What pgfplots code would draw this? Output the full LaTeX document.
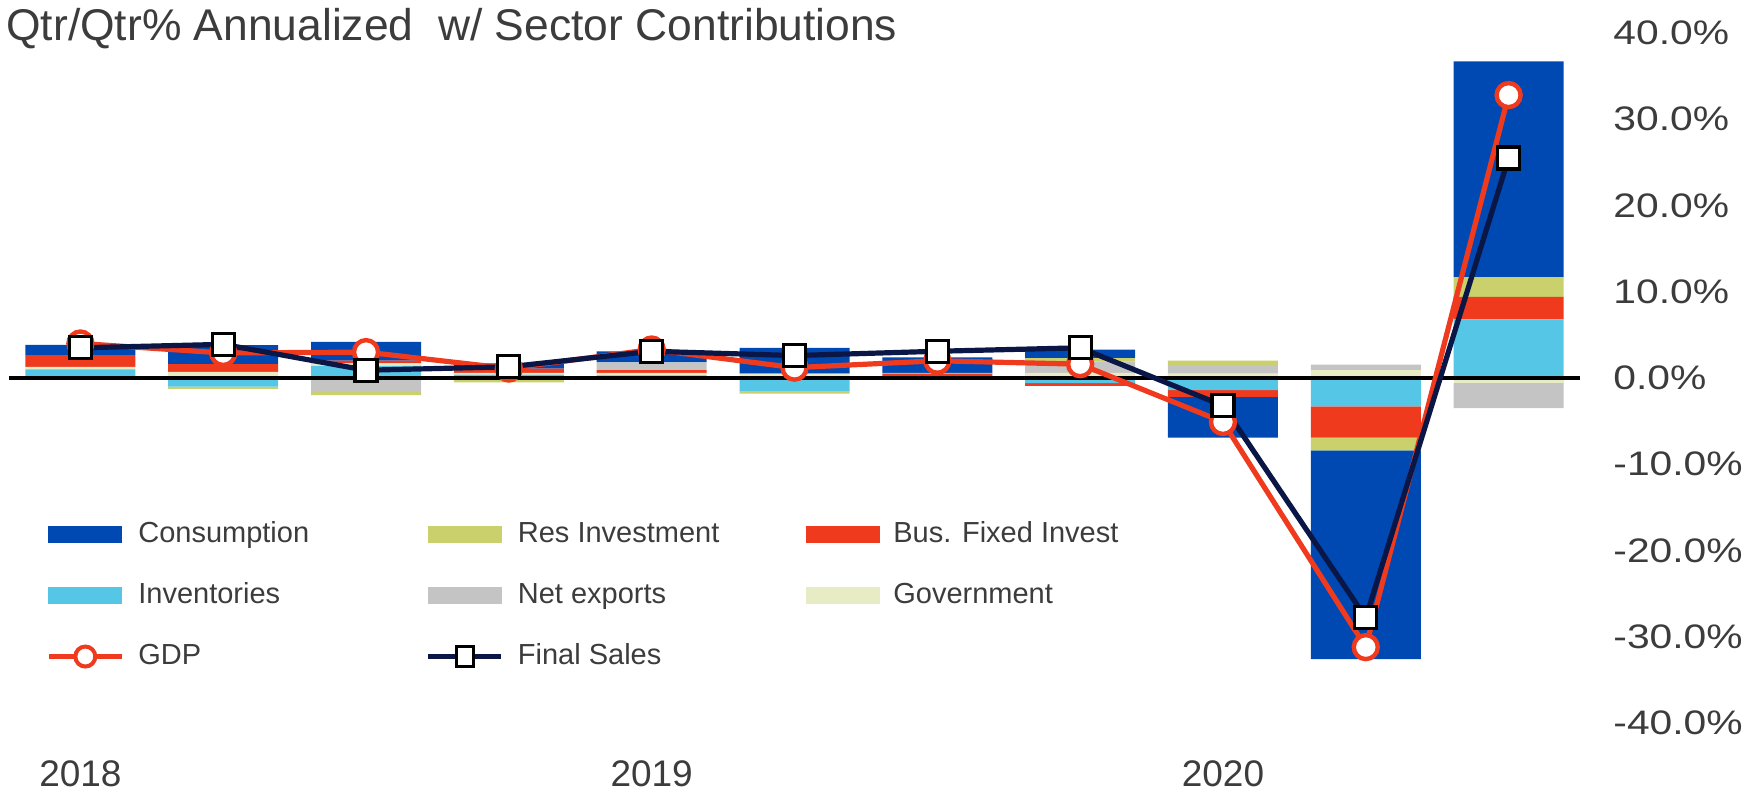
\documentclass[border=0pt]{standalone}
\usepackage{fontspec}
\setmainfont{Liberation Sans}
\usepackage{graphicx}
\usepackage{pgfplots}
\usepackage{pgfplotstable}
\pgfplotsset{compat=1.18}
\definecolor{consC}{RGB}{0,72,178}
\definecolor{resC}{RGB}{201,208,108}
\definecolor{bfiC}{RGB}{240,58,30}
\definecolor{invC}{RGB}{86,198,230}
\definecolor{nxC}{RGB}{196,196,196}
\definecolor{govC}{RGB}{232,236,196}
\definecolor{gdpC}{RGB}{240,58,30}
\definecolor{fsC}{RGB}{10,22,70}
\definecolor{textC}{RGB}{60,60,60}
\newcommand\yl[1]{\scalebox{1.2}[1]{#1}}
\pgfplotstableread{
x cons res bfi inv nx gov gdp fs
0 1.2 0.0 1.35 1.0 -0.1 0.3 4.0 3.5
1 2.2 -0.25 0.9 -1.0 0.0 0.7 2.9 3.9
2 2.2 -0.4 0.3 1.4 -1.6 0.3 3.0 0.9
3 0.6 -0.4 0.5 0.4 -0.1 0.2 1.1 1.3
4 1.3 -0.1 0.3 0.3 0.9 0.3 3.3 3.1
5 3.0 -0.3 0.0 -1.5 0.0 0.5 1.2 2.6
6 1.8 0.1 0.3 0.0 -0.1 0.2 2.0 3.1
7 1.0 0.4 -0.3 -0.6 1.3 0.6 1.6 3.5
8 -4.7 0.5 -0.8 -1.4 1.0 0.5 -5.1 -3.2
9 -24.2 -1.5 -3.6 -3.3 0.65 0.9 -31.2 -27.8
10 25.0 2.3 2.6 6.8 -2.9 -0.6 32.8 25.5
}\datatable
\pgfplotsset{common/.style={at={(4.5pt,34.5pt)}, anchor=south west, scale only axis,
  width=785.5pt, height=345pt, xmin=-0.5, xmax=10.5, ymin=-40, ymax=40, enlargelimits=false}}
\begin{document}
\begin{tikzpicture}
\path[use as bounding box] (0,0) rectangle (878pt,396pt);
% positive contributions
\begin{axis}[common, hide axis, ybar stacked, bar width=55pt, y filter/.expression={max(y,0)}]
\addplot[fill=invC, draw=none] table[x=x,y=inv]{\datatable};
\addplot[fill=govC, draw=none] table[x=x,y=gov]{\datatable};
\addplot[fill=bfiC, draw=none] table[x=x,y=bfi]{\datatable};
\addplot[fill=nxC, draw=none] table[x=x,y=nx]{\datatable};
\addplot[fill=resC, draw=none] table[x=x,y=res]{\datatable};
\addplot[fill=consC, draw=none] table[x=x,y=cons]{\datatable};
\end{axis}
% negative contributions
\begin{axis}[common, hide axis, ybar stacked, bar width=55pt, y filter/.expression={min(y,0)}]
\addplot[fill=invC, draw=none] table[x=x,y=inv]{\datatable};
\addplot[fill=govC, draw=none] table[x=x,y=gov]{\datatable};
\addplot[fill=bfiC, draw=none] table[x=x,y=bfi]{\datatable};
\addplot[fill=nxC, draw=none] table[x=x,y=nx]{\datatable};
\addplot[fill=resC, draw=none] table[x=x,y=res]{\datatable};
\addplot[fill=consC, draw=none] table[x=x,y=cons]{\datatable};
\end{axis}
% lines, ticks, legend
\begin{axis}[common,
  axis line style={draw=none}, tick style={draw=none}, major tick length=0pt,
  xtick={0,4,8}, xticklabels={2018,2019,2020},
  xticklabel style={font=\fontsize{18.5}{20}\selectfont, text=textC, anchor=north, inner sep=0pt, yshift=-18.4pt},
  ytick={-40,-30,-20,-10,0,10,20,30,40},
  yticklabels={\yl{-40.0\%},\yl{-30.0\%},\yl{-20.0\%},\yl{-10.0\%},\yl{0.0\%},\yl{10.0\%},\yl{20.0\%},\yl{30.0\%},\yl{40.0\%}},
  yticklabel pos=right,
  yticklabel style={font=\fontsize{17}{19}\selectfont, text=textC, anchor=west, inner sep=0pt, xshift=16.5pt},
  legend columns=3,
  legend style={draw=none, fill=none, inner sep=0pt, at={(rel axis cs:0.0235,0.294)}, anchor=north west,
    font=\fontsize{14.5}{17}\selectfont, text=textC,
    nodes={inner sep=0pt, text height=11pt, text depth=3pt},
    row sep=16.5pt,
    /tikz/every odd column/.append style={column sep=7pt}},
  legend cell align=left,
]
\addplot[black, line width=1.6pt, forget plot] coordinates {(-0.5,0) (10.5,0)};
\addplot[gdpC, line width=2.6pt, mark=*, mark size=6pt, mark options={fill=white, draw=gdpC, line width=2.2pt}, forget plot] table[x=x,y=gdp]{\datatable};
\addplot[fsC, line width=2.6pt, mark=square*, mark size=5.5pt, mark options={fill=white, draw=black, line width=1.6pt}, forget plot] table[x=x,y=fs]{\datatable};
\addlegendimage{legend image code/.code={\fill[consC] (0pt,-4pt) rectangle (36.5pt,4pt);}}
\addlegendentry{\makebox[143.8pt][l]{Consumption}}
\addlegendimage{legend image code/.code={\fill[resC] (0pt,-4pt) rectangle (36.5pt,4pt);}}
\addlegendentry{\makebox[143.8pt][l]{Res Investment}}
\addlegendimage{legend image code/.code={\fill[bfiC] (0pt,-4pt) rectangle (36.5pt,4pt);}}
\addlegendentry{Bus. Fixed Invest}
\addlegendimage{legend image code/.code={\fill[invC] (0pt,-4pt) rectangle (36.5pt,4pt);}}
\addlegendentry{Inventories}
\addlegendimage{legend image code/.code={\fill[nxC] (0pt,-4pt) rectangle (36.5pt,4pt);}}
\addlegendentry{Net exports}
\addlegendimage{legend image code/.code={\fill[govC] (0pt,-4pt) rectangle (36.5pt,4pt);}}
\addlegendentry{Government}
\addlegendimage{legend image code/.code={\draw[gdpC, line width=2.5pt] (0pt,0pt) -- (36.5pt,0pt); \draw[gdpC, line width=2pt, fill=white] (18.25pt,0pt) circle (5pt);}}
\addlegendentry{GDP}
\addlegendimage{legend image code/.code={\draw[fsC, line width=2.5pt] (0pt,0pt) -- (36.5pt,0pt); \draw[black, line width=1.5pt, fill=white] (14pt,-5pt) rectangle (22.5pt,5pt);}}
\addlegendentry{Final Sales}
\end{axis}
\node[anchor=north west, inner sep=0pt, text=textC, font=\fontsize{22.2}{26}\selectfont] at (3pt,392pt) {Qtr/Qtr\% Annualized\ \ w/ Sector Contributions};
\end{tikzpicture}
\end{document}
